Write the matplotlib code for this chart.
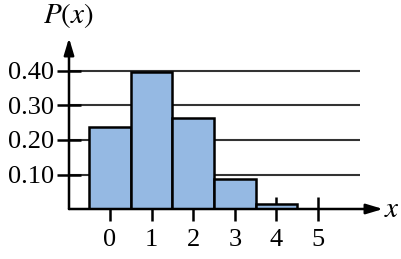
import numpy as np
import matplotlib
matplotlib.use('Agg')
import matplotlib.pyplot as plt

plt.rcParams['font.family'] = 'Liberation Serif'
plt.rcParams['mathtext.fontset'] = 'stix'

# binomial-looking probabilities
xs = [0, 1, 2, 3, 4, 5]
probs = [0.237, 0.396, 0.264, 0.088, 0.015, 0.001]
yticks = [0.10, 0.20, 0.30, 0.40]
ytick_labels = ['0.10', '0.20', '0.30', '0.40']

W, H = 402, 259
fig = plt.figure(figsize=(W / 100, H / 100), dpi=100)
ax = fig.add_axes([69 / W, (H - 209) / H, (383 - 69) / W, (209 - 38) / H])

px = 41.6  # pixels per unit x
py = 345.0  # pixels per unit y
ax.set_xlim((69 - 110) / px, (383 - 110) / px)
ax.set_ylim(0, (209 - 38) / py)

# gridlines behind the bars
ax.hlines(yticks, ax.get_xlim()[0], (360 - 110) / px, color='#333333', lw=1.5, zorder=0.5)

ax.bar(xs, probs, width=1.0, color='#95b9e3', edgecolor='black', lw=1.8, zorder=2)

for s in ['top', 'right', 'left', 'bottom']:
    ax.spines[s].set_visible(False)

# axes with arrow heads
arrow = dict(arrowstyle='-|>,head_length=1.0,head_width=0.3', lw=1.8,
             color='black', shrinkA=0, shrinkB=0)
ax.annotate('', xy=(1, 0), xytext=(0, 0), xycoords='axes fraction', arrowprops=arrow, zorder=3)
ax.annotate('', xy=(0, 1), xytext=(0, 0), xycoords='axes fraction', arrowprops=arrow, zorder=3)

ax.set_axisbelow(True)
ax.set_xticks(xs)
ax.set_xticklabels([str(v) for v in xs])
ax.set_yticks(yticks)
ax.set_yticklabels(ytick_labels)
ax.tick_params(axis='both', direction='inout', length=17, width=1.8, labelsize=19)
ax.tick_params(axis='x', pad=6)
ax.tick_params(axis='y', pad=2)

fig.text(68 / W, (H - 16) / H, r'$P(x)$', fontsize=21, ha='center', va='center')
fig.text(392 / W, (H - 210) / H, r'$x$', fontsize=21, ha='center', va='center')

fig.savefig('out.png', dpi=100)
